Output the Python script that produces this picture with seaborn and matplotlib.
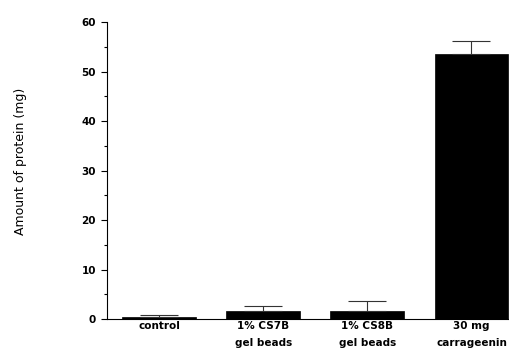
import numpy as np
import matplotlib
matplotlib.use("Agg")
import matplotlib.pyplot as plt
import seaborn as sns
import pandas as pd
from matplotlib.ticker import MultipleLocator

sns.set_style("ticks", {'text.color': 'black', 'axes.labelcolor': 'black',
                        'xtick.color': 'black', 'ytick.color': 'black',
                        'axes.edgecolor': 'black'})
plt.rcParams['font.family'] = ['DejaVu Sans']

# data
groups = ['control', '1% CS7B\ngel beads', '1% CS8B\ngel beads', '30 mg\ncarrageenin']
protein = [0.4, 1.6, 1.6, 53.5]
protein_err = [0.5, 1.0, 2.0, 2.6]

df = pd.DataFrame({'group': groups, 'protein': protein})

fig = plt.figure(figsize=(5.10, 3.61), dpi=100)
ax = fig.add_axes([0.21, 0.116, 0.79, 0.823])

sns.barplot(data=df, x='group', y='protein', color='black', width=0.71,
            saturation=1, edgecolor='black', linewidth=0.5, ax=ax)
ax.errorbar(x=np.arange(len(groups)), y=protein,
            yerr=[np.zeros(len(groups)), protein_err],
            fmt='none', ecolor='#333333', elinewidth=0.8, capsize=14, capthick=0.8)

ax.set_xlim(-0.5, 3.37)
ax.set_ylim(0, 60)
ax.yaxis.set_major_locator(MultipleLocator(10))
ax.yaxis.set_minor_locator(MultipleLocator(5))
ax.tick_params(axis='y', which='major', length=4, width=0.8, labelsize=7.5, pad=4)
ax.tick_params(axis='y', which='minor', length=2, width=0.8)
ax.tick_params(axis='x', length=0, labelsize=7.5, pad=1)
for lab in ax.get_yticklabels() + ax.get_xticklabels():
    lab.set_fontweight('bold')
for lab in ax.get_xticklabels():
    lab.set_linespacing(1.95)
    lab.set_verticalalignment('top')

ax.set_xlabel('')
ax.set_ylabel('Amount of protein (mg)', fontsize=9)
ax.yaxis.set_label_coords(-0.198, 0.53)
sns.despine(ax=ax, top=True, right=True)
for s in ['left', 'bottom']:
    ax.spines[s].set_linewidth(0.8)

fig.savefig('out.png', dpi=100)
